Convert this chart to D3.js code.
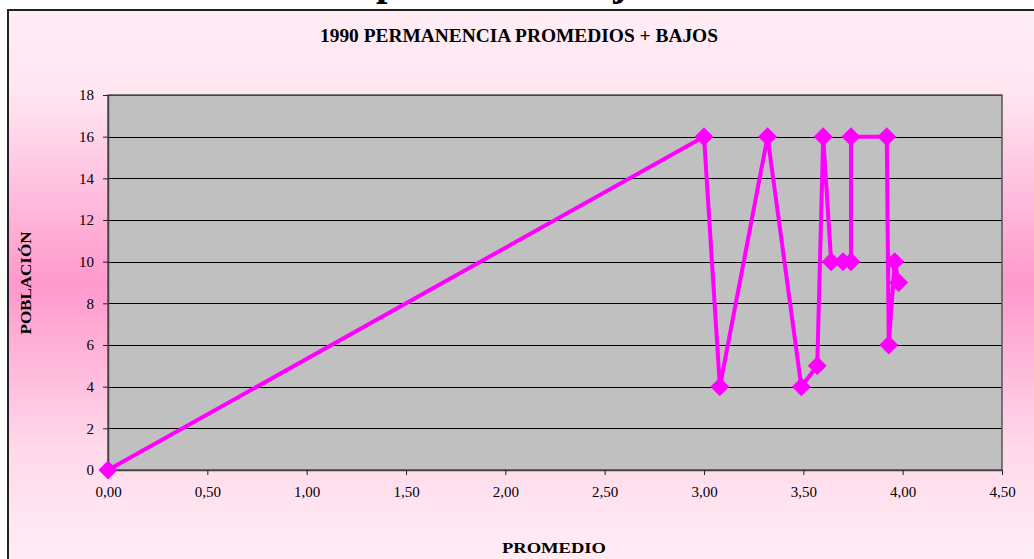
<!DOCTYPE html>
<html>
<head>
<meta charset="utf-8">
<script src="https://cdn.jsdelivr.net/npm/d3@7"></script>
<style>
  body { margin: 0; background: #fff; }
  svg text { font-family: "Liberation Serif", "DejaVu Serif", serif; }
</style>
</head>
<body>
<script>
// data
var promedio  = [0.00, 3.00, 3.08, 3.32, 3.49, 3.57, 3.60, 3.64, 3.70, 3.74, 3.74, 3.92, 3.93, 3.96, 3.98];
var poblacion = [0, 16, 4, 16, 4, 5, 16, 10, 10, 10, 16, 16, 6, 10, 9];
var xTicks = [0, 0.5, 1, 1.5, 2, 2.5, 3, 3.5, 4, 4.5];
var yTicks = [0, 2, 4, 6, 8, 10, 12, 14, 16, 18];

var chart_title = "1990 PERMANENCIA PROMEDIOS + BAJOS";
var x_title = "PROMEDIO", y_title = "POBLACIÓN";
var line_color = "#ff00ff";
var serif = "'Liberation Serif', 'DejaVu Serif', serif";

var svg_width = 1034, svg_height = 559;
var plot = { left: 108, top: 95, right: 1002, bottom: 470 };

var svg = d3.select("body").append("svg")
  .attr("width", svg_width).attr("height", svg_height);

var defs = svg.append("defs");
var grad = defs.append("linearGradient").attr("id", "bg")
  .attr("gradientUnits", "userSpaceOnUse")
  .attr("x1", 0).attr("y1", 10).attr("x2", 0).attr("y2", 559);
[[0, "#ffedf5"], [0.15, "#ffe6f1"], [0.5, "#ff99cc"], [0.8, "#ffd9ea"], [1, "#ffedf5"]]
  .forEach(function(s) { grad.append("stop").attr("offset", s[0]).attr("stop-color", s[1]); });

// big heading above the chart, only its descenders show
svg.append("text")
  .attr("x", 376).attr("y", -5)
  .attr("font-family", serif).attr("font-size", 41).attr("font-weight", "bold")
  .text("promedios bajos");

// chart area
svg.append("rect")
  .attr("x", 8).attr("y", 10).attr("width", 1040).attr("height", 560)
  .attr("fill", "url(#bg)").attr("stroke", "#222").attr("stroke-width", 2);

var x = d3.scaleLinear().domain([0, 4.5]).range([plot.left, plot.right]);
var y = d3.scaleLinear().domain([0, 18]).range([plot.bottom, plot.top]);

svg.append("rect")
  .attr("x", plot.left).attr("y", plot.top)
  .attr("width", plot.right - plot.left).attr("height", plot.bottom - plot.top)
  .attr("fill", "#c0c0c0");

// gridlines
svg.append("g").selectAll("line").data(yTicks.slice(1)).enter().append("line")
  .attr("x1", plot.left).attr("x2", plot.right)
  .attr("y1", function(d) { return Math.round(y(d)) + 0.5; })
  .attr("y2", function(d) { return Math.round(y(d)) + 0.5; })
  .attr("stroke", "#000").attr("stroke-width", 1);

svg.append("rect")
  .attr("x", plot.left).attr("y", plot.top)
  .attr("width", plot.right - plot.left).attr("height", plot.bottom - plot.top)
  .attr("fill", "none").attr("stroke", "#555").attr("stroke-width", 1.5);

var fmt = function(d) { return d3.format(".2f")(d).replace(".", ","); };

var xAxis = svg.append("g")
  .attr("transform", "translate(0," + plot.bottom + ")")
  .call(d3.axisBottom(x).tickValues(xTicks).tickFormat(fmt).tickSizeInner(5).tickSizeOuter(0).tickPadding(11));
var yAxis = svg.append("g")
  .attr("transform", "translate(" + plot.left + ",0)")
  .call(d3.axisLeft(y).tickValues(yTicks).tickFormat(d3.format("d")).tickSizeInner(5).tickSizeOuter(0).tickPadding(9));
[xAxis, yAxis].forEach(function(a) {
  a.attr("font-family", serif).attr("font-size", 15);
  a.select(".domain").attr("stroke", "#444").attr("stroke-width", 1.5);
  a.selectAll(".tick line").attr("stroke", "#222");
  a.selectAll("text").attr("fill", "#000");
});

// series
var pts = promedio.map(function(d, i) { return [d, poblacion[i]]; });
svg.append("path").datum(pts)
  .attr("d", d3.line().x(function(d) { return x(d[0]); }).y(function(d) { return y(d[1]); }))
  .attr("fill", "none").attr("stroke", line_color).attr("stroke-width", 4)
  .attr("stroke-linejoin", "round");

svg.append("g").selectAll("path").data(pts).enter().append("path")
  .attr("d", "M0,-9.5L9.5,0L0,9.5L-9.5,0Z")
  .attr("transform", function(d) { return "translate(" + x(d[0]) + "," + y(d[1]) + ")"; })
  .attr("fill", line_color);

// titles
svg.append("text")
  .attr("x", 519).attr("y", 42).attr("text-anchor", "middle")
  .attr("textLength", 398).attr("lengthAdjust", "spacingAndGlyphs")
  .attr("font-family", serif).attr("font-size", 18).attr("font-weight", "bold")
  .text(chart_title);

svg.append("text")
  .attr("x", 554).attr("y", 553).attr("text-anchor", "middle")
  .attr("textLength", 104).attr("lengthAdjust", "spacingAndGlyphs")
  .attr("font-family", serif).attr("font-size", 15).attr("font-weight", "bold")
  .text(x_title);

svg.append("text")
  .attr("transform", "translate(31,283) rotate(-90)").attr("text-anchor", "middle")
  .attr("textLength", 103).attr("lengthAdjust", "spacingAndGlyphs")
  .attr("font-family", serif).attr("font-size", 15).attr("font-weight", "bold")
  .text(y_title);
</script>
</body>
</html>
